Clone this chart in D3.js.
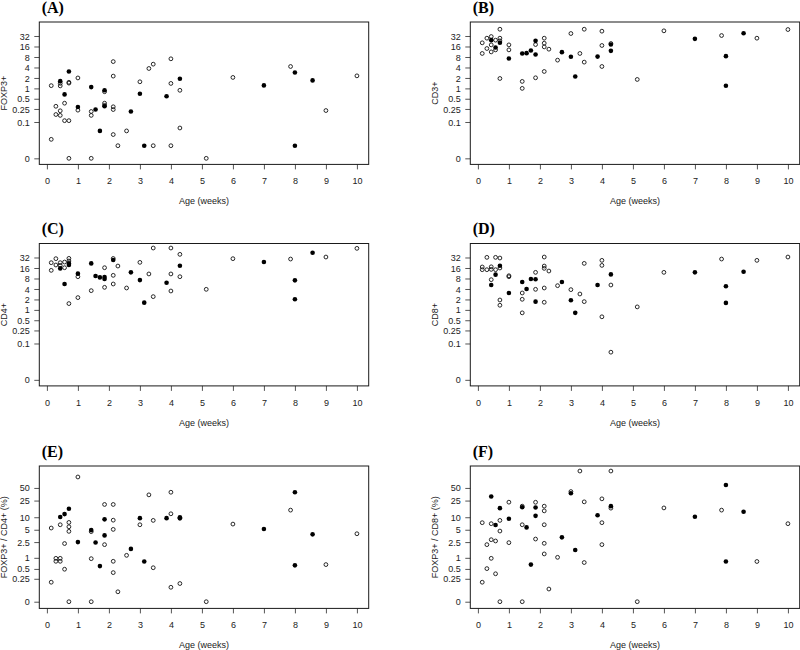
<!DOCTYPE html>
<html><head><meta charset="utf-8">
<script src="https://cdn.jsdelivr.net/npm/d3@7"></script>
<style>
body{margin:0;background:#fff;}
svg{display:block;}
.tick text{font-family:"Liberation Sans",Arial,sans-serif;font-size:9px;fill:#222;}
.tick line{stroke:#555;}
</style></head>
<body>
<svg id="chart" width="800" height="650"></svg>
<script>
// ---- data ([age in weeks, value]) ----
const ageTicks = [0,1,2,3,4,5,6,7,8,9,10];
const cellTicks = [0,0.1,0.25,0.5,1,2,4,8,16,32];
const cellTickLabels = ["0","0.1","0.25","0.5","1","2","4","8","16","32"];
const pctTicks = [0,0.25,0.5,1,2.5,5,10,25,50];
const pctTickLabels = ["0","0.25","0.5","1","2.5","5","10","25","50"];

const foxp3Open = [[0.14,1.2],[0.14,0.025],[0.29,0.3],[0.29,0.17],[0.43,1.4],[0.43,1.18],[0.43,0.22],[0.43,0.16],[0.57,0.37],[0.57,0.11],[0.71,1.5],[0.71,1.42],[0.71,0.11],[0.71,0],[1,2],[1,0.23],[1.43,0.21],[1.43,0.16],[1.43,0],[1.86,0.37],[1.86,0.32],[1.86,0.8],[2.14,5.9],[2.14,2.26],[2.14,0.29],[2.14,0.24],[2.14,0.038],[2.29,0.013],[2.57,0.051],[3,1.55],[3.29,3.74],[3.43,4.98],[3.43,0.013],[4,7.1],[4,1.39],[4,0.013],[4.29,0.88],[4.29,0.064],[5.14,0],[6,2.07],[7.86,4.27],[9,0.224],[10,2.3]];
const foxp3Filled = [[0.43,1.62],[0.57,0.67],[0.71,3.07],[1,0.285],[1.43,1.09],[1.57,0.24],[1.71,0.051],[1.86,0.88],[1.86,0.3],[2.71,0.21],[3,0.7],[3.14,0.013],[3.86,0.59],[4.29,1.89],[7,1.22],[8,2.87],[8,0.013],[8.57,1.7]];

const cd3Open = [[0.14,20.4],[0.14,10.1],[0.29,27.7],[0.29,14],[0.43,30.9],[0.43,17.8],[0.43,11.2],[0.57,24.3],[0.57,12.8],[0.71,50],[0.71,27.7],[0.71,23.2],[0.71,1.93],[1,17.8],[1,12.8],[1.43,1.59],[1.43,1],[1.86,18.2],[1.86,2.02],[2.14,27.7],[2.14,19.9],[2.14,15.6],[2.14,3.07],[2.29,13.4],[2.57,6.5],[3,37.7],[3.29,10.1],[3.43,50],[3.43,5.7],[4,44],[4,17.1],[4,4.27],[4.29,19.5],[5.14,1.81],[6,45],[7.86,33],[9,27.7],[10,49]];
const cd3Filled = [[0.43,24.3],[0.57,15],[0.71,20.4],[1,7.24],[1.43,10.1],[1.57,10.3],[1.71,12.3],[1.86,23.2],[1.86,9.4],[2.71,11],[3,8.1],[3.14,2.2],[3.86,8.2],[4.29,18.2],[4.29,12],[7,26.5],[8,8.45],[8,1.19],[8.57,38.5]];

const cd4Open = [[0.14,22.7],[0.14,13.7],[0.29,29.6],[0.29,19.5],[0.43,22.7],[0.43,19],[0.57,23.7],[0.57,16.3],[0.71,30.2],[0.71,25.4],[0.71,1.52],[1,9],[1,2.26],[1.43,3.58],[1.86,16.3],[1.86,4.46],[2.14,30],[2.14,9.85],[2.14,5.56],[2.29,18.2],[2.57,4.27],[3,23.2],[3.29,10.8],[3.43,59.8],[3.43,2.41],[4,59.8],[4,10.8],[4,3.5],[4.29,39.4],[4.29,9],[5.14,3.91],[6,29.6],[7.86,28.9],[9,33],[10,58.5]];
const cd4Filled = [[0.43,15.6],[0.57,5.56],[0.71,21.7],[0.71,19.5],[1,11],[1.43,21.7],[1.57,9.4],[1.71,8.6],[1.86,8.8],[1.86,7.7],[2.14,27.1],[2.71,12],[3,7.2],[3.14,1.62],[3.86,6.06],[4.29,18.6],[7,23.7],[8,7.08],[8,2.02],[8.57,43.9]];

const cd8Open = [[0.14,17.1],[0.14,14.3],[0.29,32.3],[0.29,14.3],[0.43,17.3],[0.43,14.6],[0.43,7.4],[0.57,32.3],[0.57,14.3],[0.71,30.9],[0.71,16],[0.71,1.93],[0.71,1.36],[1,9.6],[1,9],[1.43,3.07],[1.43,2.02],[1.43,0.82],[1.86,12],[1.86,3.91],[2.14,33],[2.14,18.2],[2.14,15.6],[2.14,4.27],[2.14,1.66],[2.29,13.1],[2.57,4.98],[3,3.83],[3.29,2.87],[3.43,21.7],[3.43,1.73],[4,26.5],[4,19],[4,0.63],[4.29,5.2],[4.29,0.052],[5.14,1.22],[6,12],[7.86,28.9],[9,26.5],[10,33]];
const cd8Filled = [[0.43,5.2],[0.57,10.3],[0.71,18.6],[1,3.07],[1.43,6.34],[1.57,4],[1.71,7.7],[1.86,7.6],[1.86,1.73],[2.71,6.34],[3,1.89],[3.14,0.82],[3.86,5.2],[4.29,10.5],[7,12],[8,4.77],[8,1.59],[8.57,12.5]];

const pctCD4Open = [[0.14,5.5],[0.14,0.19],[0.29,0.97],[0.29,0.81],[0.43,0.97],[0.43,0.81],[0.43,6.6],[0.57,2.3],[0.57,0.49],[0.71,7.5],[0.71,5.9],[0.71,4.57],[0.71,0],[1,91],[1.43,4.5],[1.43,0.95],[1.43,0],[1.86,20.2],[1.86,2.16],[2.14,20.2],[2.14,8.5],[2.14,5.1],[2.14,0.81],[2.14,0.39],[2.29,0.072],[2.57,1.16],[3,6.6],[3.29,34.2],[3.43,8.4],[3.43,0.54],[4,39.5],[4,12.1],[4,0.12],[4.29,0.17],[5.14,0],[6,6.85],[7.86,14.8],[9,0.66],[10,4]];
const pctCD4Filled = [[0.43,10.1],[0.57,11.9],[0.71,15.9],[1,2.5],[1.43,4.9],[1.57,2.45],[1.71,0.6],[1.86,8.9],[1.86,3.65],[2.71,1.69],[3,9.5],[3.14,0.8],[3.86,9.5],[4.29,10],[4.29,9.4],[7,5.2],[8,39.5],[8,0.63],[8.57,3.87]];

const pctCD8Open = [[0.14,7.4],[0.14,0.19],[0.29,2.16],[0.29,0.51],[0.43,7],[0.43,2.86],[0.43,0.97],[0.57,2.66],[0.57,0.36],[0.71,8.4],[0.71,4.65],[0.71,0],[1,22.9],[1,2.42],[1.43,18.4],[1.43,6.6],[1.43,0],[1.86,22.8],[1.86,2.97],[2.14,18.4],[2.14,14.2],[2.14,6.6],[2.14,2.33],[2.14,1.26],[2.29,0.1],[2.57,1.03],[3,41],[3.29,126],[3.43,23.3],[3.43,0.75],[4,27.5],[4,7.4],[4,2.16],[4.29,126],[4.29,16.5],[5.14,0],[6,16.7],[7.86,14.8],[9,0.8],[10,7]];
const pctCD8Filled = [[0.43,31.2],[0.57,6.5],[0.71,16.5],[1,9.2],[1.43,17.4],[1.57,5.7],[1.71,0.66],[1.86,17.1],[1.86,10.8],[2.71,3.27],[3,37.5],[3.14,1.59],[3.86,11.2],[4.29,18.4],[7,10.3],[8,58.9],[8,0.8],[8.57,13.5]];

// ---- layout ----
const svg = d3.select("#chart");
const colX = [39.3, 470.3];
const rowY = [22, 243.5, 466];
const boxW = 329.4, boxH = 142.4;
const xDomain = [-0.245, 10.38];
const cellCfg = {ticks: cellTicks, labels: cellTickLabels, offset: 0.01, domain: [0.0067, 80.6]};
const pctCfg  = {ticks: pctTicks, labels: pctTickLabels, offset: 0.1, domain: [0.0694, 166]};

const panels = [
  {tag:"(A)", ylab:"FOXP3+", open:foxp3Open, filled:foxp3Filled, cfg:cellCfg, c:0, r:0},
  {tag:"(B)", ylab:"CD3+", open:cd3Open, filled:cd3Filled, cfg:cellCfg, c:1, r:0},
  {tag:"(C)", ylab:"CD4+", open:cd4Open, filled:cd4Filled, cfg:cellCfg, c:0, r:1},
  {tag:"(D)", ylab:"CD8+", open:cd8Open, filled:cd8Filled, cfg:cellCfg, c:1, r:1},
  {tag:"(E)", ylab:"FOXP3+ / CD4+ (%)", open:pctCD4Open, filled:pctCD4Filled, cfg:pctCfg, c:0, r:2},
  {tag:"(F)", ylab:"FOXP3+ / CD8+ (%)", open:pctCD8Open, filled:pctCD8Filled, cfg:pctCfg, c:1, r:2}
];

panels.forEach(p => {
  const L = colX[p.c], T = rowY[p.r];
  const g = svg.append("g").attr("transform", `translate(${L},${T})`);
  const x = d3.scaleLinear().domain(xDomain).range([0, boxW]);
  const y = d3.scaleLog().base(2).domain(p.cfg.domain).range([boxH, 0]);
  const off = p.cfg.offset;
  const Y = v => y(v + off);

  // x axis
  const xa = g.append("g").attr("transform", `translate(0,${boxH})`)
    .call(d3.axisBottom(x).tickValues(ageTicks).tickFormat(d3.format("d")).tickSize(5).tickPadding(8.5));
  xa.select(".domain").remove();
  // y axis
  const ya = g.append("g")
    .call(d3.axisLeft(y).tickValues(p.cfg.ticks.map(v => v + off))
      .tickFormat((d, i) => p.cfg.labels[i]).tickSize(5).tickPadding(4.5));
  ya.select(".domain").remove();
  ya.selectAll(".tick text").attr("dy", "0.34em");

  // box
  g.append("rect").attr("x", 0).attr("y", 0).attr("width", boxW).attr("height", boxH)
    .attr("fill", "none").attr("stroke", "#1a1a1a").attr("stroke-width", 1);

  // points
  g.selectAll("circle.open").data(p.open).join("circle").attr("class", "open")
    .attr("cx", d => x(d[0])).attr("cy", d => Y(d[1])).attr("r", 1.9)
    .attr("fill", "none").attr("stroke", "#111").attr("stroke-width", 0.9);
  g.selectAll("circle.filled").data(p.filled).join("circle").attr("class", "filled")
    .attr("cx", d => x(d[0])).attr("cy", d => Y(d[1])).attr("r", 2.3)
    .attr("fill", "#000").attr("stroke", "none");

  // labels
  g.append("text").attr("x", boxW / 2).attr("y", boxH + 39.8)
    .attr("text-anchor", "middle")
    .style("font-family", "'Liberation Sans',Arial,sans-serif").style("font-size", "9px").style("fill", "#222")
    .text("Age (weeks)");
  g.append("text").attr("transform", `translate(-32.5,${boxH / 2}) rotate(-90)`)
    .attr("text-anchor", "middle")
    .style("font-family", "'Liberation Sans',Arial,sans-serif").style("font-size", "9px").style("fill", "#222")
    .text(p.ylab);
  g.append("text").attr("x", 2.4).attr("y", -9.3)
    .style("font-family", "'Liberation Serif','Times New Roman',serif").style("font-size", "16px")
    .style("font-weight", "bold").style("fill", "#000")
    .text(p.tag);
});
</script>
</body></html>
